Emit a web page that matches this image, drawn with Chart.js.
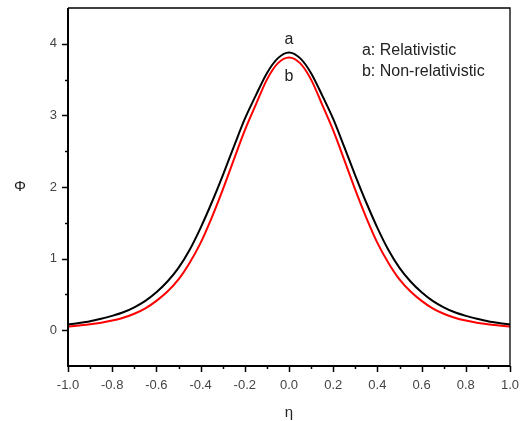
<!DOCTYPE html>
<html>
<head>
<meta charset="utf-8">
<script src="https://cdn.jsdelivr.net/npm/chart.js@4.4.1/dist/chart.umd.min.js"></script>
<style>
  html, body { margin: 0; padding: 0; background: #fff; }
  #phi-chart { display: block; }
</style>
</head>
<body>
<canvas id="phi-chart" width="526" height="421"></canvas>
<script>
// values
const eta = [-1.0, -0.95, -0.9, -0.85, -0.8, -0.75, -0.7, -0.65, -0.6, -0.55, -0.5, -0.45, -0.4, -0.35, -0.3, -0.25, -0.2,
  -0.15, -0.1, -0.05, 0.0, 0.05, 0.1, 0.15, 0.2, 0.25, 0.3, 0.35, 0.4, 0.45, 0.5, 0.55, 0.6, 0.65, 0.7, 0.75, 0.8, 0.85,
  0.9, 0.95, 1.0];
const phiRelativistic = [0.08, 0.1, 0.125, 0.16, 0.2, 0.25, 0.32, 0.41, 0.53, 0.68, 0.87, 1.12, 1.43, 1.78, 2.16, 2.56, 2.95,
  3.28, 3.59, 3.8, 3.88, 3.8, 3.59, 3.28, 2.95, 2.56, 2.16, 1.78, 1.43, 1.12, 0.87, 0.68, 0.53, 0.41, 0.32, 0.25, 0.2, 0.16,
  0.125, 0.1, 0.08];
const phiNonRelativistic = [0.05, 0.065, 0.082, 0.105, 0.135, 0.175, 0.23, 0.305, 0.41, 0.54, 0.71, 0.94, 1.22, 1.57, 1.96, 2.38,
  2.79, 3.15, 3.5, 3.73, 3.81, 3.73, 3.5, 3.15, 2.79, 2.38, 1.96, 1.57, 1.22, 0.94, 0.71, 0.54, 0.41, 0.305, 0.23, 0.175,
  0.135, 0.105, 0.082, 0.065, 0.05];

const yMajor = [0, 1, 2, 3, 4];
const yMinor = [0.5, 1.5, 2.5, 3.5];

const fontFamily = '"Liberation Sans", Arial, sans-serif';

const toPoints = values => values.map((v, i) => ({ x: eta[i], y: v }));

// frame, outside ticks and the free text of the figure
const axisDecor = {
  id: 'axisDecor',
  afterDraw(chart) {
    const { ctx, chartArea: a, scales: { x, y } } = chart;
    ctx.save();
    ctx.strokeStyle = '#000';

    ctx.lineWidth = 1.3;
    ctx.beginPath();
    ctx.moveTo(a.left, a.top);
    ctx.lineTo(a.right, a.top);
    ctx.lineTo(a.right, a.bottom);
    ctx.stroke();

    ctx.lineWidth = 2;
    ctx.beginPath();
    ctx.moveTo(a.left, a.top);
    ctx.lineTo(a.left, a.bottom);
    ctx.lineTo(a.right, a.bottom);
    ctx.stroke();

    ctx.lineWidth = 1.5;
    ctx.beginPath();
    yMajor.forEach(v => {
      const py = Math.round(y.getPixelForValue(v)) + 0.5;
      ctx.moveTo(a.left, py);
      ctx.lineTo(a.left - 6, py);
    });
    yMinor.forEach(v => {
      const py = Math.round(y.getPixelForValue(v)) + 0.5;
      ctx.moveTo(a.left, py);
      ctx.lineTo(a.left - 3, py);
    });
    x.ticks.forEach(t => {
      const k = Math.round(t.value * 10);
      const px = Math.round(x.getPixelForValue(k / 10)) + 0.5;
      ctx.moveTo(px, a.bottom);
      ctx.lineTo(px, a.bottom + (k % 2 === 0 ? 6 : 3));
    });
    ctx.stroke();

    ctx.fillStyle = '#222';
    ctx.textBaseline = 'middle';
    ctx.textAlign = 'center';
    ctx.font = '16px ' + fontFamily;
    ctx.fillText('a', x.getPixelForValue(0), y.getPixelForValue(4.06));
    ctx.fillText('b', x.getPixelForValue(0), y.getPixelForValue(3.54));

    ctx.textAlign = 'left';
    ctx.fillText('a: Relativistic', x.getPixelForValue(0.33), y.getPixelForValue(3.9));
    ctx.fillText('b: Non-relativistic', x.getPixelForValue(0.33), y.getPixelForValue(3.61));

    ctx.textAlign = 'center';
    ctx.font = '15px ' + fontFamily;
    ctx.fillText('Φ', 20, y.getPixelForValue(2));
    ctx.fillText('η', x.getPixelForValue(0), 413);
    ctx.restore();
  }
};

new Chart(document.getElementById('phi-chart'), {
  type: 'line',
  data: {
    datasets: [
      {
        label: 'a: Relativistic',
        data: toPoints(phiRelativistic),
        borderColor: '#000000',
        borderWidth: 2,
        pointRadius: 0,
        cubicInterpolationMode: 'monotone',
        fill: false
      },
      {
        label: 'b: Non-relativistic',
        data: toPoints(phiNonRelativistic),
        borderColor: '#ff0000',
        borderWidth: 2,
        pointRadius: 0,
        cubicInterpolationMode: 'monotone',
        fill: false
      }
    ]
  },
  options: {
    responsive: false,
    animation: false,
    layout: { padding: { left: 0, top: 8, right: 16, bottom: 0 } },
    plugins: {
      legend: { display: false },
      tooltip: { enabled: false }
    },
    scales: {
      x: {
        type: 'linear',
        min: -1,
        max: 1,
        border: { display: false },
        grid: { display: false, drawTicks: false },
        ticks: {
          stepSize: 0.1,
          autoSkip: false,
          maxRotation: 0,
          padding: 12,
          color: '#444',
          font: { family: fontFamily, size: 13 },
          callback: v => (Math.round(v * 10) % 2 === 0 ? v.toFixed(1) : '')
        },
        afterFit: scale => {
          scale.height = 55;
          scale.paddingLeft = 0;
          scale.paddingRight = 0;
        }
      },
      y: {
        type: 'linear',
        min: -0.5,
        max: 4.5,
        border: { display: false },
        grid: { display: false, drawTicks: false },
        ticks: {
          stepSize: 0.5,
          padding: 11,
          color: '#444',
          font: { family: fontFamily, size: 13 },
          callback: v => (Number.isInteger(v) ? String(v) : '')
        },
        afterFit: scale => {
          scale.width = 68;
          scale.paddingTop = 0;
          scale.paddingBottom = 0;
        }
      }
    }
  },
  plugins: [axisDecor]
});
</script>
</body>
</html>
